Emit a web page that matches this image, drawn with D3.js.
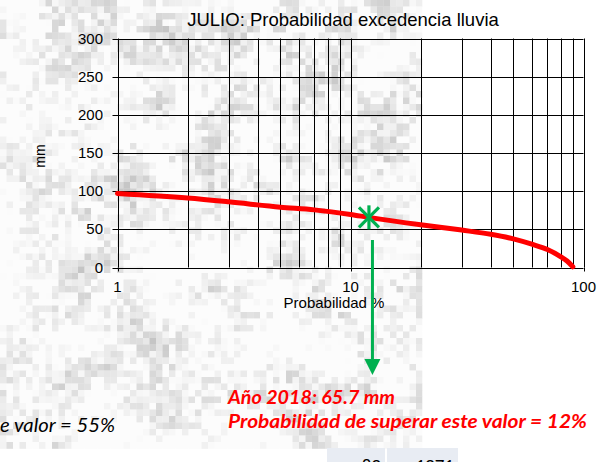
<!DOCTYPE html>
<html>
<head>
<meta charset="utf-8">
<script src="https://cdn.jsdelivr.net/npm/d3@7"></script>
<style>
  html, body { margin: 0; padding: 0; background: #fff; overflow: hidden; }
  svg { display: block; }
</style>
</head>
<body>
<div id="chart"></div>
<script>
// Values
const probability = [1, 2, 3, 5, 7, 10, 12, 20, 30, 40, 50, 60, 70, 80, 85, 90];
const rainfall = [97, 91, 86, 79, 75.5, 69.5, 65.7, 56, 49, 43.5, 37.5, 30.5, 23.5, 14, 8.5, 1];
const yTicks = [0, 50, 100, 150, 200, 250, 300];
const xTicks = [1, 10, 100];
const markProb = 12;
const markMm = 65.7;
const tableCells = ['89', '1971'];

// SVG Canvas Setup
const width = 598;
const height = 462;
const svg = d3.select('#chart')
    .append('svg')
    .attr('width', width)
    .attr('height', height);

// Textured backdrop behind the left part of the picture (deterministic hash noise)
function hash(i, j) {
    const s = Math.sin(i * 127.1 + j * 311.7) * 43758.5453;
    return s - Math.floor(s);
}
function smooth(i, j) {
    const gi = Math.floor(i / 4), gj = Math.floor(j / 4);
    const fi = (i % 4) / 4, fj = (j % 4) / 4;
    const a = hash(gi, gj), b = hash(gi + 1, gj), c = hash(gi, gj + 1), d = hash(gi + 1, gj + 1);
    return (a * (1 - fi) + b * fi) * (1 - fj) + (c * (1 - fi) + d * fi) * fj;
}
const cell = 6.5;
const texW = 422, texH = 448;
const cells = [];
for (let j = 0; j < Math.ceil(texH / cell); j++) {
    for (let i = 0; i < Math.ceil(texW / cell); i++) {
        const v = 0.6 * smooth(i, j) + 0.45 * hash(i + 17, j + 5) - 0.5;
        const k = Math.max(0, Math.min(1, v));
        cells.push({ i, j, g: Math.round(252 - k * 105) });
    }
}
svg.append('g').attr('id', 'texture')
    .selectAll('rect')
    .data(cells)
    .join('rect')
    .attr('x', d => d.i * cell)
    .attr('y', d => d.j * cell)
    .attr('width', d => Math.min(cell, texW - d.i * cell) + 0.3)
    .attr('height', cell + 0.3)
    .attr('fill', d => `rgb(${d.g},${d.g},${d.g})`);

// Table fragment at the bottom edge
const tableG = svg.append('g');
const cellBoxes = [[327, 385], [387, 458]];
cellBoxes.forEach((b, i) => {
    tableG.append('rect')
        .attr('x', b[0]).attr('y', 448)
        .attr('width', b[1] - b[0]).attr('height', 20)
        .attr('fill', '#e8ecf3');
    tableG.append('text')
        .attr('x', b[1] - 4).attr('y', 472)
        .attr('text-anchor', 'end')
        .attr('font-family', 'Carlito, Calibri, Lato, sans-serif')
        .attr('font-size', 19)
        .attr('fill', '#000')
        .text(tableCells[i]);
});

// Scales
const x = d3.scaleLog().domain([1, 100]).range([117.5, 583.5]);
const y = d3.scaleLinear().domain([0, 300]).range([267.5, 38.5]);

const chart = svg.append('g').attr('id', 'chart-group');
const font = 'Liberation Sans, Arial, sans-serif';

// Grid
const minor = [];
for (let d = 1; d < 100; d *= 10) {
    for (let m = 1; m < 10; m++) minor.push(d * m);
}
minor.push(100);
chart.append('g').selectAll('line')
    .data(minor)
    .join('line')
    .attr('x1', d => Math.round(x(d)) + 0.5)
    .attr('x2', d => Math.round(x(d)) + 0.5)
    .attr('y1', y(300))
    .attr('y2', y(0))
    .attr('stroke', '#000')
    .attr('stroke-width', 1);

chart.append('g').selectAll('line')
    .data(yTicks)
    .join('line')
    .attr('x1', x(1) - 5)
    .attr('x2', x(100))
    .attr('y1', d => Math.round(y(d)) + 0.5)
    .attr('y2', d => Math.round(y(d)) + 0.5)
    .attr('stroke', '#000')
    .attr('stroke-width', 1);

// Major ticks on x axis
chart.append('g').selectAll('line')
    .data(xTicks)
    .join('line')
    .attr('x1', d => Math.round(x(d)) + 0.5)
    .attr('x2', d => Math.round(x(d)) + 0.5)
    .attr('y1', y(0))
    .attr('y2', y(0) + 4)
    .attr('stroke', '#000');

// Tick labels
chart.append('g').selectAll('text')
    .data(yTicks)
    .join('text')
    .attr('x', 103)
    .attr('y', d => y(d) + 5)
    .attr('text-anchor', 'end')
    .attr('font-family', font)
    .attr('font-size', 15)
    .attr('fill', '#000')
    .text(d => d);

chart.append('g').selectAll('text')
    .data(xTicks)
    .join('text')
    .attr('x', d => x(d))
    .attr('y', 292)
    .attr('text-anchor', 'middle')
    .attr('font-family', font)
    .attr('font-size', 15)
    .attr('fill', '#000')
    .text(d => d);

// Axis titles and chart title
chart.append('text')
    .attr('x', 334).attr('y', 308)
    .attr('text-anchor', 'middle')
    .attr('font-family', font).attr('font-size', 15)
    .text('Probabilidad %');

chart.append('text')
    .attr('transform', 'translate(45,156) rotate(-90)')
    .attr('text-anchor', 'middle')
    .attr('font-family', font).attr('font-size', 14)
    .text('mm');

chart.append('text')
    .attr('x', 343).attr('y', 26)
    .attr('text-anchor', 'middle')
    .attr('font-family', font).attr('font-size', 18.5)
    .text('JULIO: Probabilidad excedencia lluvia');

// Exceedance curve
const line = d3.line()
    .x(d => x(d[0]))
    .y(d => y(d[1]))
    .curve(d3.curveMonotoneX);
chart.append('path')
    .datum(probability.map((p, i) => [p, rainfall[i]]))
    .attr('d', line)
    .attr('fill', 'none')
    .attr('stroke', '#ff0000')
    .attr('stroke-width', 5)
    .attr('stroke-linecap', 'round');

// 2018 marker (asterisk) and arrow
const green = '#00b050';
const mx = x(markProb), my = y(markMm);
const star = chart.append('g').attr('transform', `translate(${mx},${my})`)
    .attr('stroke', green).attr('stroke-width', 3.2).attr('stroke-linecap', 'butt');
star.append('line').attr('x1', -10).attr('y1', -10).attr('x2', 10).attr('y2', 10);
star.append('line').attr('x1', -10).attr('y1', 10).attr('x2', 10).attr('y2', -10);
star.append('line').attr('x1', 0).attr('y1', -12).attr('x2', 0).attr('y2', 12);

chart.append('line')
    .attr('x1', mx + 3.5).attr('x2', mx + 3.5)
    .attr('y1', 240).attr('y2', 362)
    .attr('stroke', green).attr('stroke-width', 3);
chart.append('path')
    .attr('d', `M${mx + 3.5 - 8},359 L${mx + 3.5 + 8},359 L${mx + 3.5},375 Z`)
    .attr('fill', green);

// Annotations
const noteFont = 'Lato, Carlito, Calibri, sans-serif';
svg.append('text')
    .attr('x', 228).attr('y', 404)
    .attr('font-family', noteFont).attr('font-size', 19)
    .attr('font-weight', 'bold').attr('font-style', 'italic')
    .attr('fill', '#ff0000')
    .attr('textLength', 167).attr('lengthAdjust', 'spacingAndGlyphs')
    .text('Año 2018: 65.7 mm');
svg.append('text')
    .attr('x', 228).attr('y', 428)
    .attr('font-family', noteFont).attr('font-size', 19)
    .attr('font-weight', 'bold').attr('font-style', 'italic')
    .attr('fill', '#ff0000')
    .attr('textLength', 359).attr('lengthAdjust', 'spacingAndGlyphs')
    .text('Probabilidad de superar este valor = 12%');
svg.append('text')
    .attr('x', 0).attr('y', 432)
    .attr('font-family', noteFont).attr('font-size', 19)
    .attr('font-style', 'italic')
    .attr('fill', '#000')
    .attr('textLength', 115).attr('lengthAdjust', 'spacingAndGlyphs')
    .text('e valor = 55%');
</script>
</body>
</html>
